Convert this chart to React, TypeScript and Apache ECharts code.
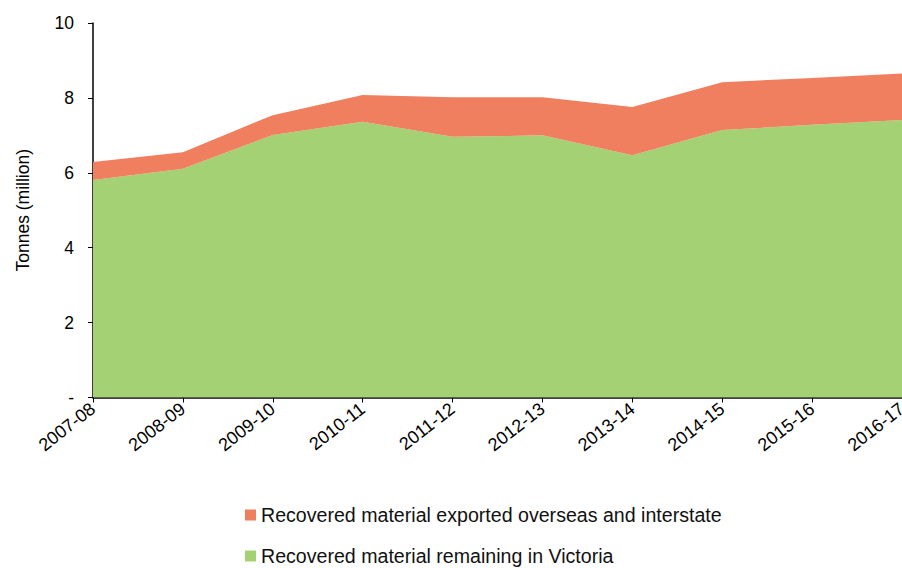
import React, { useEffect, useRef } from "react";
import * as echarts from "echarts";

const categories = ["2007-08", "2008-09", "2009-10", "2010-11", "2011-12", "2012-13", "2013-14", "2014-15", "2015-16", "2016-17"];
const remainingVic = [5.81, 6.11, 7.01, 7.36, 6.96, 7.0, 6.47, 7.14, 7.28, 7.41];
const exported = [0.48, 0.44, 0.53, 0.72, 1.06, 1.02, 1.29, 1.28, 1.25, 1.24];
const yTicks = [0, 2, 4, 6, 8, 10];
const nameExported = "Recovered material exported overseas and interstate";
const nameRemaining = "Recovered material remaining in Victoria";

export default function App() {
  const ref = useRef<HTMLDivElement>(null);
  useEffect(() => {
    document.body.style.margin = "0";
    const chart = echarts.init(ref.current!, undefined, { renderer: "svg" });
    const font = "'Liberation Sans', Arial, sans-serif";
    chart.setOption({
      animation: false,
      textStyle: { fontFamily: font },
      grid: { left: 93, right: 0, top: 23, bottom: 170.5, outerBoundsMode: "none", containLabel: false },
      legend: {
        orient: "vertical",
        left: 245,
        top: 504,
        padding: 0,
        itemWidth: 11,
        itemHeight: 11,
        itemGap: 19,
        icon: "rect",
        data: [nameExported, nameRemaining],
        textStyle: { fontSize: 19.6, color: "#111", fontFamily: font, lineHeight: 22 },
      },
      xAxis: {
        type: "category",
        data: categories,
        boundaryGap: false,
        axisLine: { lineStyle: { color: "#000", width: 1.5 } },
        axisTick: { show: true, length: 5, lineStyle: { color: "#000" }, alignWithLabel: true },
        axisLabel: { rotate: 38, fontSize: 18, color: "#000", margin: 9, fontFamily: font },
        splitLine: { show: false },
      },
      yAxis: {
        type: "value",
        min: yTicks[0],
        max: yTicks[yTicks.length - 1],
        interval: 2,
        name: "Tonnes (million)",
        nameLocation: "middle",
        nameGap: 61,
        nameTextStyle: { fontSize: 17.5, color: "#000", fontFamily: font },
        axisLine: { show: true, lineStyle: { color: "#000", width: 1.5 } },
        axisTick: { show: true, length: 5, lineStyle: { color: "#000" } },
        axisLabel: {
          fontSize: 17.5,
          color: "#000",
          margin: 19,
          fontFamily: font,
          formatter: (v: number) => (v === 0 ? "-" : String(v)),
        },
        splitLine: { show: false },
      },
      series: [
        {
          name: nameRemaining,
          type: "line",
          stack: "total",
          data: remainingVic,
          symbol: "none",
          lineStyle: { width: 0 },
          areaStyle: { color: "#A3D173", opacity: 1 },
          itemStyle: { color: "#A3D173" },
        },
        {
          name: nameExported,
          type: "line",
          stack: "total",
          data: exported,
          symbol: "none",
          lineStyle: { width: 0 },
          areaStyle: { color: "#EF7F5F", opacity: 1 },
          itemStyle: { color: "#EF7F5F" },
        },
      ],
    });
    return () => chart.dispose();
  }, []);
  return <div ref={ref} style={{ width: 902, height: 568 }} />;
}
